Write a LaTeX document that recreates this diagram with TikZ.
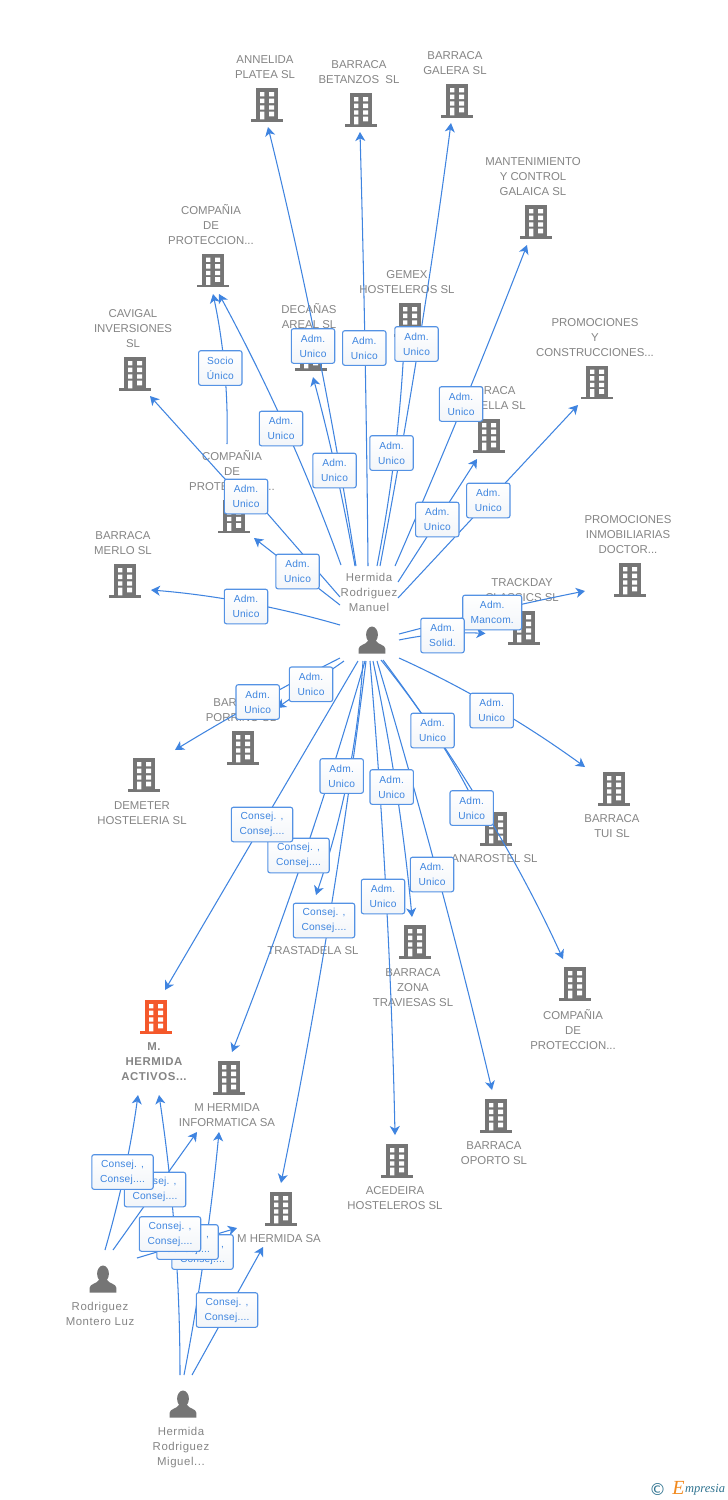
\documentclass[tikz,border=0pt]{standalone}
\usepackage{fontspec}
\setmainfont{Liberation Sans}
\newfontfamily\logofont{Liberation Serif}
\newfontfamily\symfont{DejaVu Sans}
\usetikzlibrary{arrows.meta,calc}
\definecolor{txtgrey}{HTML}{858585}
\definecolor{icongrey}{HTML}{757575}
\definecolor{iconred}{HTML}{F4582B}
\definecolor{linkblue}{HTML}{3F84E0}
\definecolor{boxblue}{HTML}{5492E4}
\definecolor{boxtext}{HTML}{3E85DF}
\definecolor{boxlow}{HTML}{F2F5F9}
\definecolor{logoteal}{HTML}{2F7390}
\definecolor{logoorange}{HTML}{F28A1E}
\tikzset{
  ent/.style={text=txtgrey,align=center,inner sep=0pt,yshift=-0.6pt,font=\fontsize{11.4}{15}\selectfont},
  entp/.style={ent,font=\fontsize{11.4}{15}\selectfont\addfontfeature{LetterSpace=5}},
  entb/.style={ent,font=\fontsize{11.4}{15}\selectfont\bfseries\addfontfeature{LetterSpace=5}},
  conn/.style={draw=linkblue,line width=1.05pt,line join=round,-{Stealth[length=9pt,width=10pt,inset=2.6pt]}},
  tag/.style={draw=boxblue,line width=1.1pt,rounded corners=2.2pt,top color=white,bottom color=boxlow,
    text=boxtext,align=center,inner sep=0pt,minimum height=34.6pt,font=\fontsize{10.2}{15}\selectfont\addfontfeature{LetterSpace=2}},
  adm/.style={tag,minimum width=43.4pt},
  cons/.style={tag,minimum width=61.4pt},
  mancom/.style={tag,minimum width=59pt},
  pics/bldg/.style={code={
    \fill[#1] (-11,0) rectangle (11,31.5);
    \fill[#1] (-16,31.2) rectangle (16,33.6);
    \fill[white] (-7,4) rectangle (-2.6,8.4) (2.2,4) rectangle (7,8.4)
      (-7,10.7) rectangle (-2.6,15) (2.2,10.7) rectangle (7,15)
      (-7,17.3) rectangle (-2.6,21.7) (2.2,17.3) rectangle (7,21.7)
      (-7,23.6) rectangle (-2.6,31.3) (2.2,23.6) rectangle (7,28.3);
  }},
  pics/persona/.style={code={
    \fill[icongrey] (0,8.2) ellipse (5.9 and 8.2);
    \fill[icongrey] (-13.4,27) -- (-13.4,22.5) .. controls (-13.4,18) and (-6,18.5) .. (-3.6,14)
      -- (3.6,14) .. controls (6,18.5) and (13.4,18) .. (13.4,22.5) -- (13.4,27) -- cycle;
  }}
}
\newcommand{\qlink}[3]{\draw[conn] (#1) .. controls ($(#1)!2/3!(#2)$) and ($(#3)!2/3!(#2)$) .. (#3);}
\begin{document}
\begin{tikzpicture}[x=1pt,y=-1pt]
\useasboundingbox (0,0) rectangle (728,1500);
\fill[white] (0,0) rectangle (728,1500);

% buildings: icons
\pic at (267,88) {bldg=icongrey};
\pic at (361,93) {bldg=icongrey};
\pic at (457,84) {bldg=icongrey};
\pic at (536,205) {bldg=icongrey};
\pic at (213,253.5) {bldg=icongrey};
\pic at (410,303) {bldg=icongrey};
\pic at (135,357) {bldg=icongrey};
\pic at (311,337) {bldg=icongrey};
\pic at (597,365.5) {bldg=icongrey};
\pic at (489,419) {bldg=icongrey};
\pic at (234,499.5) {bldg=icongrey};
\pic at (125,564) {bldg=icongrey};
\pic at (630,563) {bldg=icongrey};
\pic at (524,611) {bldg=icongrey};
\pic at (243,731) {bldg=icongrey};
\pic at (144,758) {bldg=icongrey};
\pic at (614,772) {bldg=icongrey};
\pic at (496,812) {bldg=icongrey};
\pic at (315,904) {bldg=icongrey};
\pic at (415,925) {bldg=icongrey};
\pic at (575,967) {bldg=icongrey};
\pic at (156,1000) {bldg=iconred};
\pic at (229,1061) {bldg=icongrey};
\pic at (496,1099) {bldg=icongrey};
\pic at (397,1144) {bldg=icongrey};
\pic at (281,1192) {bldg=icongrey};
% people: icons
\pic at (372,626.5) {persona};
\pic at (103,1265.5) {persona};
\pic at (183,1390.5) {persona};

% entity names
\node[ent] (annelida) at (265,66.5) {ANNELIDA\\PLATEA SL};
\node[ent] (betanzos) at (359,71.5) {BARRACA\\BETANZOS\ \ SL};
\node[ent] (galera) at (455,62.5) {BARRACA\\GALERA SL};
\node[ent] (mant) at (533,176) {MANTENIMIENTO\\Y CONTROL\\GALAICA SL};
\node[ent] (proteca) at (211,224) {COMPAÑIA\\DE\\PROTECCION...};
\node[ent] (gemex) at (407,281.5) {GEMEX\\HOSTELEROS SL};
\node[ent] (cavigal) at (133,328) {CAVIGAL\\INVERSIONES\\SL};
\node[ent] (decanas) at (309,315.5) {DECAÑAS\\AREAL SL};
\node[ent] (constr) at (595,337) {PROMOCIONES\\Y\\CONSTRUCCIONES...};
\node[ent] (castella) at (488,397.5) {BARRACA\\CASTELLA SL};
\node[ent] (protecb) at (232,470) {COMPAÑIA\\DE\\PROTECCION...};
\node[ent] (merlo) at (123,542.5) {BARRACA\\MERLO SL};
\node[ent] (inmob) at (628,534) {PROMOCIONES\\INMOBILIARIAS\\DOCTOR...};
\node[ent] (trackday) at (522,589.5) {TRACKDAY\\CLASSICS SL};
\node[entp] (manuel) at (369,592) {Hermida\\Rodriguez\\Manuel};
\node[ent] (porrino) at (241,709.5) {BARRACA\\PORRIÑO SL};
\node[ent] (demeter) at (142,812.5) {DEMETER\\HOSTELERIA SL};
\node[ent] (tui) at (612,825.5) {BARRACA\\TUI SL};
\node[ent] (anarostel) at (494.5,858) {ANAROSTEL SL};
\node[ent] (trastadela) at (313,950) {TRASTADELA SL};
\node[ent] (zona) at (413,987) {BARRACA\\ZONA\\TRAVIESAS SL};
\node[ent] (protecc) at (573,1029) {COMPAÑIA\\DE\\PROTECCION...};
\node[entb] (activos) at (154,1061) {M.\\HERMIDA\\ACTIVOS...};
\node[ent] (informatica) at (227,1114.5) {M HERMIDA\\INFORMATICA SA};
\node[ent] (oporto) at (494,1152.5) {BARRACA\\OPORTO SL};
\node[ent] (acedeira) at (395,1197.5) {ACEDEIRA\\HOSTELEROS SL};
\node[ent] (mhsa) at (279,1238) {M HERMIDA SA};
\node[entp] (luz) at (100,1313.5) {Rodriguez\\Montero Luz};
\node[entp] (miguel) at (181,1446.5) {Hermida\\Rodriguez\\Miguel...};

% connector ends
\coordinate (annelida-in) at (268,127);
\coordinate (betanzos-in) at (360,132);
\coordinate (galera-in) at (451,123);
\coordinate (gemex-in) at (404,345);
\coordinate (mant-in) at (527,245);
\coordinate (castella-in) at (477,459);
\coordinate (constr-in) at (578,405);
\coordinate (proteca-in1) at (213,294);
\coordinate (proteca-in2) at (219,294);
\coordinate (decanas-in) at (313,377);
\coordinate (cavigal-in) at (150,396);
\coordinate (protecb-in) at (254,538);
\coordinate (protecb-out) at (227,444);
\coordinate (merlo-in) at (151,590);
\coordinate (trackday-in) at (485.5,633.5);
\coordinate (inmob-in) at (585,591);
\coordinate (tui-in) at (585,767);
\coordinate (anarostel-in) at (478,810);
\coordinate (protecc-in) at (563,959);
\coordinate (zona-in) at (412,917);
\coordinate (acedeira-in) at (395,1135);
\coordinate (oporto-in) at (492,1090);
\coordinate (trastadela-in) at (316,895);
\coordinate (informatica-in1) at (232,1052);
\coordinate (mhsa-in1) at (281,1183);
\coordinate (activos-in1) at (165,990);
\coordinate (demeter-in) at (175,750);
\coordinate (porrino-in) at (277,708);
\coordinate (activos-in2) at (138,1095);
\coordinate (activos-in3) at (159,1095);
\coordinate (informatica-in2) at (197,1132);
\coordinate (informatica-in3) at (219,1132);
\coordinate (mhsa-in2) at (237,1228);
\coordinate (mhsa-in3) at (263,1247);

\coordinate (m1) at (356,566);
\coordinate (m2) at (368,566);
\coordinate (m3) at (380,566);
\coordinate (m4) at (377,566);
\coordinate (m5) at (395,566);
\coordinate (m6) at (398,582);
\coordinate (m7) at (398,598);
\coordinate (m8) at (355,566);
\coordinate (m9) at (341,565);
\coordinate (m10) at (340,597);
\coordinate (m11) at (340,605);
\coordinate (m12) at (340,625);
\coordinate (m13) at (399,640);
\coordinate (m14) at (399,634);
\coordinate (m15) at (399,658);
\coordinate (m16) at (381,660);
\coordinate (m17) at (383,660);
\coordinate (m18) at (373,661);
\coordinate (m19) at (370,661);
\coordinate (m20) at (377,661);
\coordinate (m21) at (365,661);
\coordinate (m22) at (363,661);
\coordinate (m23) at (366,661);
\coordinate (m24) at (358,661);
\coordinate (m25) at (340,658);
\coordinate (m26) at (344,661);
\coordinate (l1) at (105,1250);
\coordinate (l2) at (113,1250);
\coordinate (l3) at (137,1258);
\coordinate (g1) at (180,1375);
\coordinate (g2) at (184,1375);
\coordinate (g3) at (192,1375);

% connectors
\qlink{m1}{322,346}{annelida-in}
\qlink{m8}{338,470}{decanas-in}
\qlink{m2}{366,349}{betanzos-in}
\qlink{m3}{422,345}{galera-in}
\qlink{m4}{398.5,455}{gemex-in}
\qlink{m5}{465,405}{mant-in}
\draw[conn] (m6) -- (castella-in);
\draw[conn] (m7) -- (constr-in);
\qlink{protecb-out}{229,369}{proteca-in1}
\qlink{m9}{292,429}{proteca-in2}
\draw[conn] (m10) -- (267,513) -- (224,478) -- (cavigal-in);
\draw[conn] (m11) -- (protecb-in);
\qlink{m12}{245,597.5}{merlo-in}
\qlink{m13}{442,631}{trackday-in}
\qlink{m14}{490,610}{inmob-in}
\qlink{m15}{494,701}{tui-in}
\qlink{m16}{442,735}{anarostel-in}
\qlink{m17}{495,810}{protecc-in}
\qlink{m18}{400,789}{zona-in}
\qlink{m19}{390,898}{acedeira-in}
\qlink{m20}{441,875}{oporto-in}
\qlink{m22}{356,778}{trastadela-in}
\qlink{m21}{309,856}{informatica-in1}
\qlink{m23}{334,922}{mhsa-in1}
\draw[conn] (m24) -- (activos-in1);
\qlink{m25}{257,700}{demeter-in}
\draw[conn] (m26) -- (porrino-in);
\qlink{l1}{127.5,1172}{activos-in2}
\draw[conn] (l2) -- (informatica-in2);
\draw[conn] (l3) -- (mhsa-in2);
\qlink{g1}{180,1235}{activos-in3}
\qlink{g2}{207.5,1253}{informatica-in3}
\draw[conn] (g3) -- (mhsa-in3);

% connector labels
\node[adm] (t1) at (313,346) {Adm.\\Unico};
\node[adm] (t2) at (364.3,348) {Adm.\\Unico};
\node[adm] (t3) at (416.5,344) {Adm.\\Unico};
\node[adm] (t4) at (220.3,368) {Socio\\Único};
\node[adm] (t5) at (281,428.5) {Adm.\\Unico};
\node[adm] (t6) at (461,404) {Adm.\\Unico};
\node[adm] (t7) at (334.5,470.5) {Adm.\\Unico};
\node[adm] (t8) at (391.5,453) {Adm.\\Unico};
\node[adm] (t9) at (246,496.5) {Adm.\\Unico};
\node[adm] (t10) at (437.3,519.5) {Adm.\\Unico};
\node[adm] (t11) at (488.3,500.5) {Adm.\\Unico};
\node[adm] (t12) at (297.5,571.5) {Adm.\\Unico};
\node[adm] (t13) at (246,606.5) {Adm.\\Unico};
\node[mancom] (t14) at (492.2,612.5) {Adm.\\Mancom.};
\node[adm] (t15) at (442.5,635.5) {Adm.\\Solid.};
\node[adm] (t16) at (311,684.3) {Adm.\\Unico};
\node[adm] (t17) at (257.7,702) {Adm.\\Unico};
\node[adm] (t18) at (491.7,710.5) {Adm.\\Unico};
\node[adm] (t19) at (432.5,730.5) {Adm.\\Unico};
\node[adm] (t20) at (341.7,776) {Adm.\\Unico};
\node[adm] (t21) at (391.7,787) {Adm.\\Unico};
\node[adm] (t22) at (471.7,808) {Adm.\\Unico};
\node[cons] (t23) at (298.5,855.5) {Consej. ,\\Consej....};
\node[cons] (t24) at (262,824.5) {Consej. ,\\Consej....};
\node[cons] (t25) at (324,920.5) {Consej. ,\\Consej....};
\node[adm] (t26) at (432,874.5) {Adm.\\Unico};
\node[adm] (t27) at (383,896.5) {Adm.\\Unico};
\node[cons] (t28) at (155,1189.5) {Consej. ,\\Consej....};
\node[cons] (t29) at (122.5,1172) {Consej. ,\\Consej....};
\node[cons] (t30) at (202.5,1252) {Consej. ,\\Consej....};
\node[cons] (t31) at (187.5,1242) {Consej. ,\\Consej....};
\node[cons] (t32) at (170,1234) {Consej. ,\\Consej....};
\node[cons] (t33) at (227,1310) {Consej. ,\\Consej....};

% logo
\node[text=logoteal,inner sep=0pt,font=\symfont\fontsize{16.5}{16.5}\selectfont] (copy) at (657.5,1489) {©};
\node[text=logoorange,inner sep=0pt,font=\logofont\itshape\fontsize{20}{20}\selectfont] (logoe) at (678.5,1488) {E};
\node[text=logoteal,inner sep=0pt,anchor=west,font=\logofont\itshape\fontsize{12.5}{14}\selectfont] (logot) at (685,1490) {mpresia};
\end{tikzpicture}
\end{document}
